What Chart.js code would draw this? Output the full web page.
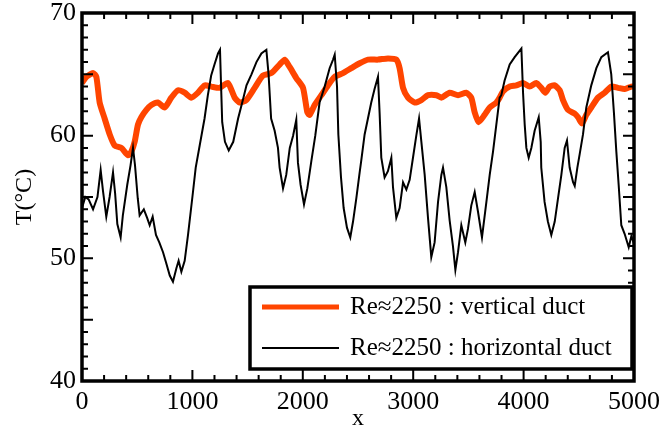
<!DOCTYPE html>
<html>
<head>
<meta charset="utf-8">
<script src="https://cdn.jsdelivr.net/npm/chart.js@4.4.0/dist/chart.umd.min.js"></script>
<style>
  html, body { margin: 0; padding: 0; background: #fff; }
</style>
</head>
<body>
<canvas id="tempChart" width="664" height="433"></canvas>
<script>
// Re≈2250 : vertical duct
const verticalX = [0, 40, 100, 130, 160, 205, 251, 296, 356, 417, 447, 477, 507, 537, 583, 628, 688, 749, 809, 870, 930, 990, 1050, 1111, 1172, 1247, 1322, 1383, 1428, 1488, 1564, 1639, 1715, 1790, 1836, 1881, 1941, 2002, 2041, 2062, 2107, 2168, 2228, 2289, 2364, 2439, 2515, 2591, 2681, 2772, 2847, 2877, 2908, 2953, 3013, 3074, 3134, 3210, 3255, 3330, 3406, 3481, 3526, 3557, 3593, 3647, 3693, 3753, 3783, 3813, 3874, 3934, 3995, 4055, 4115, 4160, 4197, 4236, 4282, 4327, 4357, 4402, 4463, 4493, 4529, 4568, 4613, 4674, 4734, 4795, 4855, 4916, 4976, 5000];
const verticalT = [64.3, 64.8, 65.1, 64.8, 62.7, 61.4, 60.1, 59.2, 59.0, 58.4, 58.7, 59.5, 60.9, 61.5, 62.1, 62.5, 62.7, 62.3, 63.1, 63.7, 63.5, 63.1, 63.5, 64.1, 64.0, 63.9, 64.3, 63.1, 62.7, 62.9, 63.9, 64.9, 65.1, 65.8, 66.2, 65.6, 64.7, 63.9, 61.9, 61.7, 62.5, 63.3, 64.1, 64.8, 65.1, 65.5, 65.9, 66.2, 66.2, 66.3, 66.2, 65.5, 63.9, 63.1, 62.7, 62.9, 63.3, 63.3, 63.1, 63.5, 63.3, 63.5, 63.1, 61.9, 61.1, 61.7, 62.3, 62.7, 63.1, 63.6, 64.0, 64.1, 64.3, 64.0, 64.3, 63.9, 63.5, 64.0, 64.1, 63.7, 62.9, 62.1, 61.8, 61.5, 61.0, 61.7, 62.3, 63.1, 63.5, 64.0, 63.9, 63.8, 64.0, 64.0];

// Re≈2250 : horizontal duct
const horizontalX = [0, 30, 60, 100, 140, 169, 190, 220, 250, 281, 300, 320, 350, 370, 410, 440, 462, 480, 505, 522, 560, 590, 613, 640, 670, 700, 734, 760, 795, 824, 855, 875, 900, 930, 960, 1000, 1030, 1066, 1110, 1140, 1170, 1200, 1232, 1250, 1260, 1270, 1295, 1329, 1370, 1414, 1460, 1490, 1535, 1580, 1625, 1670, 1690, 1713, 1745, 1775, 1790, 1821, 1850, 1882, 1912, 1941, 1956, 1980, 2011, 2041, 2077, 2113, 2152, 2198, 2243, 2274, 2289, 2310, 2322, 2346, 2370, 2400, 2430, 2455, 2485, 2515, 2530, 2560, 2590, 2620, 2650, 2681, 2696, 2711, 2741, 2771, 2802, 2817, 2847, 2877, 2908, 2938, 2968, 2998, 3028, 3053, 3074, 3104, 3134, 3164, 3194, 3225, 3255, 3270, 3300, 3330, 3360, 3382, 3406, 3436, 3472, 3496, 3526, 3557, 3587, 3623, 3663, 3693, 3723, 3753, 3783, 3798, 3828, 3874, 3919, 3980, 3995, 4010, 4025, 4046, 4070, 4100, 4137, 4155, 4160, 4190, 4220, 4251, 4282, 4312, 4342, 4372, 4393, 4417, 4448, 4463, 4487, 4508, 4538, 4568, 4613, 4659, 4704, 4764, 4794, 4818, 4840, 4861, 4885, 4915, 4952, 4976, 5000];
const horizontalT = [54.1, 55.0, 54.8, 54.0, 55.0, 57.2, 55.5, 53.4, 55.0, 57.0, 55.3, 52.8, 51.7, 53.5, 56.0, 57.6, 59.0, 57.6, 54.9, 53.5, 54.0, 53.3, 52.7, 53.4, 51.9, 51.3, 50.5, 49.7, 48.6, 48.1, 49.2, 49.8, 48.9, 49.8, 51.9, 55.0, 57.4, 59.2, 61.4, 63.3, 64.9, 65.8, 66.7, 67.0, 64.0, 61.1, 59.5, 58.8, 59.5, 61.4, 63.0, 64.1, 65.0, 66.0, 66.7, 67.0, 65.0, 61.4, 60.4, 59.0, 57.4, 55.7, 56.8, 59.0, 60.0, 61.3, 57.8, 56.0, 54.4, 55.7, 57.9, 60.0, 62.7, 64.0, 65.5, 66.2, 66.6, 64.0, 60.1, 56.6, 54.1, 52.5, 51.7, 53.0, 54.9, 57.0, 58.0, 60.1, 61.4, 62.7, 63.8, 64.8, 61.8, 58.2, 56.6, 57.1, 58.2, 55.8, 53.3, 54.1, 56.2, 55.6, 56.4, 58.2, 60.0, 61.4, 59.5, 56.8, 53.3, 50.1, 51.3, 54.6, 56.8, 57.4, 55.8, 53.1, 51.0, 49.05, 50.5, 52.7, 51.3, 52.4, 54.3, 55.4, 53.8, 51.7, 54.6, 56.8, 58.7, 60.9, 63.1, 63.3, 64.5, 65.8, 66.4, 67.1, 63.5, 60.9, 59.0, 58.2, 59.0, 60.4, 61.5, 59.5, 57.4, 54.6, 53.0, 51.9, 53.0, 54.9, 56.8, 59.0, 59.6, 57.4, 56.2, 55.9, 57.4, 58.5, 60.1, 62.3, 64.1, 65.5, 66.4, 66.8, 65.0, 61.9, 58.7, 56.0, 52.7, 52.0, 50.9, 51.8, 51.2];

const xRange = [0, 5000];
const yRange = [40, 70];
const xStep = 1000, xMinor = 200;
const yStep = 10, yMinor = 1;

const SERIF = "'Liberation Serif', 'DejaVu Serif', serif";

function toPoints(xs, ys) {
  return xs.map((x, i) => ({ x: x, y: ys[i] }));
}

/* frame + inward ticks on all four sides */
const frameTicks = {
  id: "frameTicks",
  afterDatasetsDraw(chart) {
    const { ctx, chartArea: a, scales } = chart;
    const x = scales.x, y = scales.y;
    ctx.save();
    ctx.strokeStyle = "#000";
    ctx.lineWidth = 2;
    ctx.beginPath();
    for (let v = xRange[0]; v <= xRange[1]; v += xMinor) {
      const px = x.getPixelForValue(v);
      const len = v % xStep === 0 ? 11 : 6;
      ctx.moveTo(px, a.bottom); ctx.lineTo(px, a.bottom - len);
      ctx.moveTo(px, a.top); ctx.lineTo(px, a.top + len);
    }
    for (let v = yRange[0]; v <= yRange[1]; v += yMinor) {
      const py = y.getPixelForValue(v);
      const len = v % 5 === 0 ? 11 : 6;
      ctx.moveTo(a.left, py); ctx.lineTo(a.left + len, py);
      ctx.moveTo(a.right, py); ctx.lineTo(a.right - len, py);
    }
    ctx.stroke();
    ctx.lineWidth = 3.5;
    ctx.strokeRect(a.left, a.top, a.width, a.height);
    ctx.restore();
  },
};

/* boxed legend in the lower right corner */
const boxLegend = {
  id: "boxLegend",
  afterDraw(chart) {
    const { ctx, chartArea: a } = chart;
    const right = a.right - 2, bottom = a.bottom - 12;
    const left = 250, top = 287;
    ctx.save();
    ctx.fillStyle = "#fff";
    ctx.fillRect(left, top, right - left, bottom - top);
    ctx.strokeStyle = "#000";
    ctx.lineWidth = 3.5;
    ctx.strokeRect(left, top, right - left, bottom - top);

    const rows = [chart.data.datasets[1], chart.data.datasets[0]];
    ctx.font = "25px " + SERIF;
    ctx.textBaseline = "middle";
    ctx.textAlign = "left";
    rows.forEach((ds, i) => {
      const cy = top + 20 + i * 41;
      ctx.beginPath();
      ctx.strokeStyle = ds.borderColor;
      ctx.lineWidth = i === 0 ? 5 : 2;
      ctx.moveTo(left + 12, cy);
      ctx.lineTo(left + 89, cy);
      ctx.stroke();
      ctx.fillStyle = "#000";
      ctx.fillText(ds.label, left + 100, cy);
    });
    ctx.restore();
  },
};

new Chart(document.getElementById("tempChart"), {
  type: "line",
  data: {
    datasets: [
      {
        label: "Re≈2250 : horizontal duct",
        data: toPoints(horizontalX, horizontalT),
        borderColor: "#000000",
        borderWidth: 2,
        pointRadius: 0,
        tension: 0,
        order: 0,
      },
      {
        label: "Re≈2250 : vertical duct",
        data: toPoints(verticalX, verticalT),
        borderColor: "#ff4500",
        borderWidth: 6,
        pointRadius: 0,
        tension: 0.2,
        order: 1,
      },
    ],
  },
  options: {
    responsive: false,
    animation: false,
    devicePixelRatio: 1,
    layout: { padding: { top: 13, right: 30, left: 0, bottom: 0 } },
    plugins: {
      legend: { display: false },
      tooltip: { enabled: false },
    },
    scales: {
      x: {
        type: "linear",
        min: xRange[0],
        max: xRange[1],
        grid: { display: false, drawTicks: false },
        border: { display: false },
        ticks: {
          stepSize: xStep,
          padding: 6,
          color: "#000",
          font: { family: SERIF, size: 26 },
          callback: (v) => String(v),
        },
        title: {
          display: true,
          text: "x",
          color: "#000",
          font: { family: SERIF, size: 24 },
          padding: 0,
        },
        afterFit: (s) => { s.height = 52; s.paddingLeft = 0; s.paddingRight = 0; },
      },
      y: {
        min: yRange[0],
        max: yRange[1],
        grid: { display: false, drawTicks: false },
        border: { display: false },
        ticks: {
          stepSize: yStep,
          padding: 6,
          color: "#000",
          font: { family: SERIF, size: 26 },
        },
        title: {
          display: true,
          text: "T(°C)",
          color: "#000",
          font: { family: SERIF, size: 24 },
          padding: { top: 10, bottom: 0 },
        },
        afterFit: (s) => { s.width = 82; s.paddingTop = 0; s.paddingBottom = 0; },
      },
    },
  },
  plugins: [frameTicks, boxLegend],
});
</script>
</body>
</html>
